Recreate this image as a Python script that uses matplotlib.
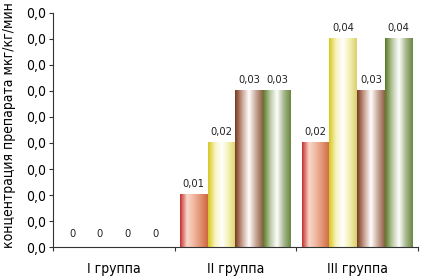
import matplotlib
matplotlib.use("Agg")
import matplotlib.pyplot as plt
import numpy as np
from matplotlib.colors import LinearSegmentedColormap

groups = ["I группа", "II группа", "III группа"]
series = [
    [0.0, 0.01, 0.02],   # red
    [0.0, 0.02, 0.04],   # yellow
    [0.0, 0.03, 0.03],   # brown
    [0.0, 0.03, 0.04],   # green
]
ylabel = "концентрация препарата мкг/кг/мин"

plt.rcParams['font.family'] = ['DejaVu Sans']
plt.rcParams['font.stretch'] = 'condensed'

grads = [
    ["#c83030", "#f8d8c8", "#f0b8a0", "#e09070", "#d06840"],
    ["#d8c820", "#f8f4c0", "#ffffff", "#f4f0b0", "#d8d070"],
    ["#7a3a20", "#c8a090", "#ffffff", "#c8a898", "#906048"],
    ["#5a7a28", "#b8c8a0", "#ffffff", "#a8b890", "#6a8840"],
]

fig = plt.figure(figsize=(4.23, 2.76), dpi=100)
ax = fig.add_axes([0.125, 0.105, 0.863, 0.848])

n = len(series)
w = 0.228
x = np.arange(len(groups)) + 0.5
ax.set_xlim(0, 3)
ax.set_ylim(0, 0.045)

for i, vals in enumerate(series):
    pos = x + (i - (n - 1) / 2) * w
    bars = ax.bar(pos, vals, width=w, color="none", edgecolor="none", zorder=2)
    cmap = LinearSegmentedColormap.from_list(f"g{i}", grads[i])
    grad = np.linspace(0, 1, 64).reshape(1, -1)
    for b, v in zip(bars, vals):
        if v > 0:
            ax.imshow(grad, cmap=cmap, aspect="auto", zorder=2,
                      extent=(b.get_x(), b.get_x() + b.get_width(), 0, b.get_height()),
                      interpolation="bilinear")
        lab = "0" if v == 0 else f"{v:.2f}".replace(".", ",")
        ax.annotate(lab, (b.get_x() + b.get_width() / 2, v), xytext=(0, 4 if v > 0 else 6),
                    textcoords="offset points", ha="center", va="bottom", fontsize=8, color="#222222")

ax.set_xlim(0, 3)
ax.set_ylim(0, 0.045)
ax.set_yticks(np.arange(0, 0.0451, 0.005))
ax.set_yticklabels(["0,0"] * 10, fontsize=10)
ax.set_xticks([0, 1, 2, 3])
ax.set_xticklabels([])
ax.set_xticks(x, minor=True)
ax.set_xticklabels(groups, minor=True, fontsize=10)
ax.tick_params(axis="x", which="minor", length=0, pad=11)
ax.tick_params(axis="x", which="major", length=3, direction="out", color="#333333")
ax.tick_params(axis="y", length=3, direction="out", color="#333333", pad=2)
for s in ["top", "right"]:
    ax.spines[s].set_visible(False)
for s in ["left", "bottom"]:
    ax.spines[s].set_color("#333333")
    ax.spines[s].set_linewidth(0.8)
ax.set_ylabel(ylabel, fontsize=10, labelpad=2)
ax.yaxis.set_label_coords(-0.1, 0.52)

fig.savefig("out.png", dpi=100)
